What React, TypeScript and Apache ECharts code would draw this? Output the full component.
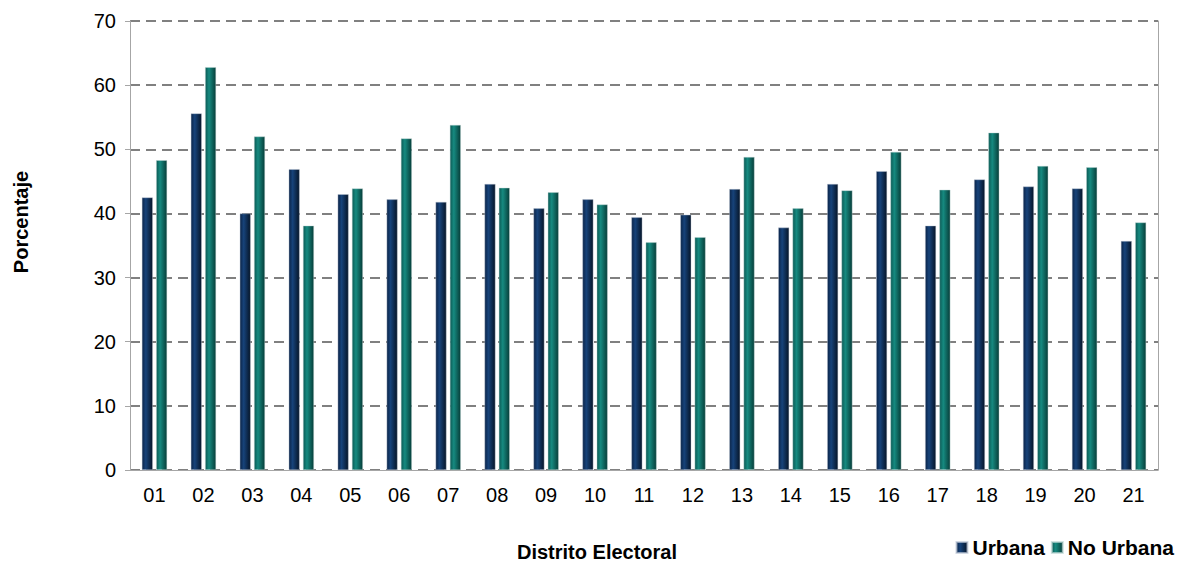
import React, { useEffect, useRef } from "react";
import * as echarts from "echarts";

const categories = ["01","02","03","04","05","06","07","08","09","10","11","12","13","14","15","16","17","18","19","20","21"];
const urbana = [42.5,55.6,40.0,46.9,43.0,42.2,41.8,44.6,40.8,42.2,39.4,39.8,43.8,37.8,44.6,46.6,38.1,45.3,44.2,43.9,35.7];
const noUrbana = [48.3,62.8,52.0,38.1,43.9,51.7,53.8,44.0,43.3,41.4,35.5,36.3,48.8,40.8,43.6,49.6,43.7,52.6,47.4,47.2,38.6];
const yTicks = { min: 0, max: 70, interval: 10 };
const seriesNames = ["Urbana", "No Urbana"];
const xTitle = "Distrito Electoral";
const yTitle = "Porcentaje";

const FONT = "'Liberation Sans', Arial, sans-serif";

const grad = (a: string, b: string, c: string) =>
  new echarts.graphic.LinearGradient(0, 0, 1, 0, [
    { offset: 0, color: a },
    { offset: 0.35, color: b },
    { offset: 1, color: c },
  ]);

export default function App() {
  const ref = useRef<HTMLDivElement>(null);
  useEffect(() => {
    if (!ref.current) return;
    const chart = echarts.init(ref.current, null, { renderer: "svg" });
    chart.setOption({
      animation: false,
      backgroundColor: "#ffffff",
      textStyle: { fontFamily: FONT },
      grid: { left: 130, right: 28, top: 21, bottom: 92, containLabel: false },
      legend: {
        data: seriesNames,
        right: 7,
        top: 532,
        icon: "rect",
        itemWidth: 11,
        itemHeight: 11,
        itemGap: 6,
        textStyle: { fontFamily: FONT, fontSize: 21, fontWeight: "bold", color: "#000" },
      },
      xAxis: {
        type: "category",
        data: categories,
        axisLine: { show: true, lineStyle: { color: "#a6a6a6", width: 1 } },
        axisTick: { show: false },
        axisLabel: { fontFamily: FONT, fontSize: 20, color: "#000", margin: 15 },
      },
      yAxis: [
        {
          type: "value",
          min: yTicks.min,
          max: yTicks.max,
          interval: yTicks.interval,
          axisLine: { show: true, lineStyle: { color: "#a6a6a6", width: 1 } },
          axisTick: { show: true, length: 5, lineStyle: { color: "#a6a6a6" } },
          axisLabel: { fontFamily: FONT, fontSize: 20, color: "#000", margin: 14 },
          splitLine: { show: true, lineStyle: { color: "#808080", width: 2, type: [10, 6] } },
        },
        {
          type: "value",
          position: "right",
          min: yTicks.min,
          max: yTicks.max,
          interval: yTicks.interval,
          axisLine: { show: true, lineStyle: { color: "#a6a6a6", width: 1 } },
          axisTick: { show: false },
          axisLabel: { show: false },
          splitLine: { show: false },
        },
      ],
      series: [
        {
          name: seriesNames[0],
          type: "bar",
          data: urbana,
          barWidth: 11,
          barGap: "30%",
          itemStyle: {
            color: grad("#0b2448", "#17437a", "#061528"),
            borderColor: "rgba(190,200,215,0.7)",
            borderWidth: 0.6,
          },
        },
        {
          name: seriesNames[1],
          type: "bar",
          data: noUrbana,
          barWidth: 11,
          barGap: "30%",
          itemStyle: {
            color: grad("#0c5a55", "#168a80", "#073d39"),
            borderColor: "rgba(190,215,212,0.7)",
            borderWidth: 0.6,
          },
        },
      ],
      graphic: [
        {
          type: "text",
          x: 21,
          y: 222,
          rotation: Math.PI / 2,
          style: {
            text: yTitle,
            fontFamily: FONT,
            fontSize: 20,
            fontWeight: "bold",
            fill: "#000",
            align: "center",
            verticalAlign: "middle",
          },
        },
        {
          type: "text",
          x: 597,
          y: 552,
          style: {
            text: xTitle,
            fontFamily: FONT,
            fontSize: 20,
            fontWeight: "bold",
            fill: "#000",
            align: "center",
            verticalAlign: "middle",
          },
        },
      ],
    });
    return () => chart.dispose();
  }, []);
  return <div ref={ref} style={{ width: 1186, height: 562, position: "absolute", left: 0, top: 0 }} />;
}
